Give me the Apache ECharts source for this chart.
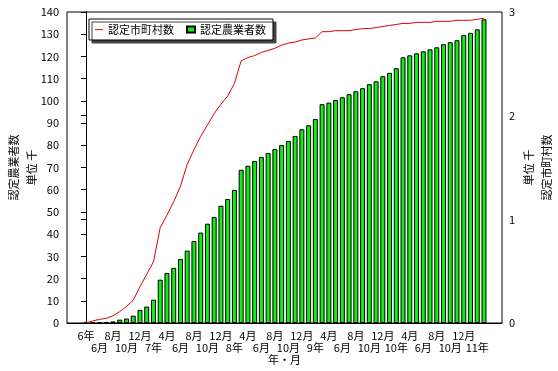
<!DOCTYPE html>
<html>
<head>
<meta charset="utf-8">
<script src="https://cdn.jsdelivr.net/npm/echarts@6/dist/echarts.min.js"></script>
<style>html,body{margin:0;padding:0;background:#fff}#c{width:558px;height:371px}</style>
</head>
<body>
<div id="c"></div>
<script>
// Month index 0 = 平成6年4月 ... 59 = 平成11年3月
const tickLabels = ['6年','6月','8月','10月','12月','7年','4月','6月','8月','10月','12月','8年','4月','6月','8月','10月','12月','9年','4月','6月','8月','10月','12月','10年','4月','6月','8月','10月','12月','11年'];
const farmers = [0.3,0.3,0.4,0.5,0.7,1.5,2.0,3.3,5.9,7.4,10.5,19.5,22.5,24.8,28.8,32.6,36.9,40.7,44.7,47.7,52.8,55.8,59.9,69.0,70.8,72.9,74.7,76.5,78.3,80.1,81.9,84.2,87.2,89.0,91.8,98.5,99.2,100.4,101.6,103.0,104.3,105.7,107.5,108.8,111.1,112.6,114.7,119.6,120.5,121.4,122.3,123.2,124.1,125.5,126.4,127.3,129.7,130.6,132.2,136.7];
const municipalities = [0.00,0.02,0.035,0.045,0.07,0.11,0.16,0.22,0.35,0.47,0.59,0.92,1.04,1.17,1.32,1.53,1.67,1.80,1.91,2.02,2.11,2.19,2.31,2.53,2.56,2.58,2.61,2.63,2.65,2.68,2.70,2.71,2.73,2.74,2.75,2.81,2.81,2.82,2.82,2.82,2.83,2.84,2.84,2.85,2.86,2.87,2.88,2.89,2.89,2.90,2.90,2.90,2.91,2.91,2.91,2.92,2.92,2.92,2.93,2.94];

const FONT = '"Noto Sans CJK JP", sans-serif';
const tickPos = tickLabels.map((_, k) => k * 2);
const row1Pos = tickPos.filter(p => p % 4 === 0);
const row2Pos = tickPos.filter(p => p % 4 === 2);
const labelFor = v => tickLabels[Math.round(v) / 2];
const X_MIN = -2.82, X_MAX = 61.67;

const chart = echarts.init(document.getElementById('c'), null, {renderer: 'canvas'});
const xBase = {
  type: 'value', min: X_MIN, max: X_MAX, position: 'bottom',
  axisTick: {show: false},
  splitLine: {show: false}
};
chart.setOption({
  animation: false,
  textStyle: {fontFamily: FONT, color: '#000'},
  grid: {left: 67, right: 56, top: 12, bottom: 48, containLabel: false, outerBoundsMode: 'none',
         show: true, borderColor: '#000', borderWidth: 1},
  legend: {
    left: 89, top: 19,
    padding: [5, 7, 5, 6],
    itemGap: 12,
    itemWidth: 8, itemHeight: 6,
    backgroundColor: '#fff',
    borderColor: '#000', borderWidth: 1,
    shadowColor: '#444', shadowBlur: 0, shadowOffsetX: 3, shadowOffsetY: 3,
    textStyle: {fontFamily: FONT, fontSize: 11, color: '#000', padding: [0, 0, 0, 0]},
    data: [{name: '認定市町村数', icon: 'path://M0,0H9V1H0Z'}, {name: '認定農業者数', icon: 'rect'}]
  },
  xAxis: [Object.assign({}, xBase, {
    name: '年・月', nameLocation: 'middle', nameGap: 31, nameMoveOverlap: false,
    nameTextStyle: {fontFamily: FONT, fontSize: 11, color: '#000'},
    axisLine: {show: true, lineStyle: {color: '#000'}},
    axisLabel: {
      customValues: row1Pos, hideOverlap: false,
      fontFamily: FONT, fontSize: 11, color: '#000', margin: 7,
      formatter: labelFor
    }
  }), Object.assign({}, xBase, {
    axisLine: {show: false},
    axisLabel: {
      customValues: row2Pos, hideOverlap: false,
      fontFamily: FONT, fontSize: 11, color: '#000', margin: 19,
      formatter: labelFor
    }
  })],
  yAxis: [{
    type: 'value', min: 0, max: 140, interval: 10,
    name: '認定農業者数\n単位 千', nameLocation: 'middle', nameRotate: 90, nameGap: 26, nameMoveOverlap: false,
    nameTextStyle: {fontFamily: FONT, fontSize: 11, color: '#000', lineHeight: 18, align: 'center'},
    axisLine: {show: true, lineStyle: {color: '#000'}},
    axisTick: {show: true, length: 5, lineStyle: {color: '#000'}},
    splitLine: {show: false},
    axisLabel: {fontFamily: FONT, fontSize: 11, color: '#000', margin: 8}
  }, {
    type: 'value', min: 0, max: 3, interval: 1,
    name: '単位 千\n認定市町村数', nameLocation: 'middle', nameRotate: 90, nameGap: 18, nameMoveOverlap: false,
    nameTextStyle: {fontFamily: FONT, fontSize: 11, color: '#000', lineHeight: 18, align: 'center'},
    axisLine: {show: true, lineStyle: {color: '#000'}},
    axisTick: {show: true, inside: true, length: 5, lineStyle: {color: '#000'}},
    splitLine: {show: false},
    axisLabel: {fontFamily: FONT, fontSize: 11, color: '#000', margin: 7}
  }],
  series: [{
    name: '認定農業者数', type: 'bar', xAxisIndex: 0, yAxisIndex: 0, barWidth: 5,
    itemStyle: {color: '#11ee11', borderColor: '#000', borderWidth: 1},
    data: farmers.map((v, i) => [i, v]),
    z: 2
  }, {
    name: '認定市町村数', type: 'line', xAxisIndex: 0, yAxisIndex: 1,
    symbol: 'none', showSymbol: false,
    lineStyle: {color: '#dd0000', width: 1},
    itemStyle: {color: '#dd0000'},
    data: municipalities.map((v, i) => [i, v]),
    z: 3
  }]
});
</script>
</body>
</html>
